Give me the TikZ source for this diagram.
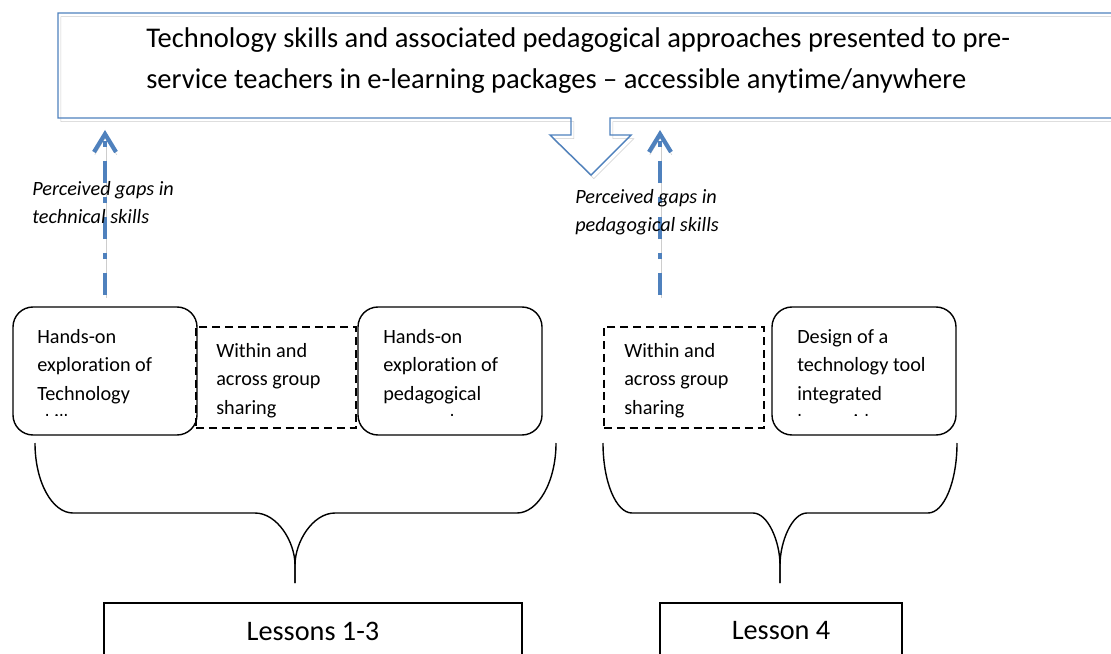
\documentclass[tikz,border=0pt]{standalone}
\usepackage{fontspec}
\setmainfont{Carlito}[Ligatures={TeX,NoCommon}]
\usetikzlibrary{arrows.meta}

\definecolor{shapeblue}{RGB}{79,129,189}
\definecolor{shadowgray}{RGB}{205,205,205}

\tikzset{
  calloutline/.style={draw=shapeblue, line width=1pt, preaction={draw=shadowgray, transform canvas={shift={(0.07,-0.09)}}}},
  gaparrow/.style={draw=shapeblue, line width=3pt, dash pattern=on 0.55cm off 0.35cm on 0.15cm off 0.35cm, -{Straight Barb[length=4.5mm,width=5.5mm]}, preaction={draw=shadowgray, transform canvas={shift={(0.02,-0.07)}}}},
  roundbox/.style={draw, line width=1pt, rounded corners=0.5cm, minimum width=4.6cm, minimum height=3.2cm},
  dashbox/.style={draw, line width=0.8pt, dash pattern=on 0.2cm off 0.12cm, minimum width=4cm, minimum height=2.525cm},
  lessonbox/.style={draw, line width=1pt, inner sep=0pt, minimum height=1.4cm, font=\fontsize{20.1}{24}\selectfont},
  titletext/.style={anchor=north west, inner sep=0pt, align=left, font=\fontsize{20.3}{29.6}\selectfont},
  boxtext/.style={anchor=north west, inner sep=0pt, align=left, font=\fontsize{14.4}{20.3}\selectfont},
  gaptext/.style={anchor=north west, inner sep=0pt, align=left, font=\itshape\fontsize{14.4}{20}\selectfont},
  brace/.style={draw, line width=1pt}
}

\begin{document}
\begin{tikzpicture}
\useasboundingbox (0,0) rectangle (27.775,16.325);

% callout with the e-learning packages
\draw[calloutline] (28.5,16) -- (1.45,16) -- (1.45,13.375) -- (14.275,13.375) -- (14.275,12.95) -- (13.75,12.95) -- (14.775,11.95) -- (15.775,12.95) -- (15.25,12.95) -- (15.25,13.375) -- (28.5,13.375);
\node[titletext] (packages) at (3.65,15.65) {Technology skills and associated pedagogical approaches presented to pre-\\service teachers in e-learning packages – accessible anytime/anywhere};

% activity boxes
\node[roundbox] (techskills) at (2.625,7.05) {};
\node[dashbox] (sharingA) at (6.9,6.8875) {};
\node[roundbox] (pedskills) at (11.25,7.05) {};
\node[dashbox] (sharingB) at (17.1,6.8875) {};
\node[roundbox] (design) at (21.6,7.05) {};

\node[boxtext] (sharetextA) at (5.4,7.755) {Within and\\across group\\sharing};
\node[boxtext] (sharetextB) at (15.6,7.755) {Within and\\across group\\sharing};
% text of the rounded boxes runs past their bottom margin
\begin{scope}
\clip (0,5.94) rectangle (4.925,10) (8.95,5.94) rectangle (13.55,10) (19.275,5.94) rectangle (23.925,10);
\node[boxtext] (techtext) at (0.925,8.105) {Hands-on\\exploration of\\Technology\\skills};
\node[boxtext] (pedtext) at (9.575,8.105) {Hands-on\\exploration of\\pedagogical\\approaches};
\node[boxtext] (designtext) at (19.925,8.105) {Design of a\\technology tool\\integrated\\lesson ideas};
\end{scope}

% perceived gaps
\coordinate (techfoot) at (2.625,8.95);
\coordinate (techhead) at (2.625,13.075);
\coordinate (pedfoot) at (16.5,8.95);
\coordinate (pedhead) at (16.5,13.075);
\draw[gaparrow] (techfoot) -- (techhead);
\draw[gaparrow] (pedfoot) -- (pedhead);
\node[gaptext] (techgap) at (0.8,11.805) {Perceived gaps in\\technical skills};
\node[gaptext] (pedgap) at (14.375,11.6) {Perceived gaps in\\pedagogical skills};

% braces
\draw[brace] (0.875,5.25) .. controls (0.875,4.28) and (1.3,3.5) .. (1.825,3.5) -- (6.375,3.5) .. controls (6.93,3.5) and (7.375,2.78) .. (7.375,2.2) -- (7.375,1.75);
\draw[brace] (13.9,5.25) .. controls (13.9,4.28) and (13.45,3.5) .. (12.925,3.5) -- (8.375,3.5) .. controls (7.82,3.5) and (7.375,2.78) .. (7.375,2.2) -- (7.375,1.75);
\draw[brace] (15.075,5.25) .. controls (15.075,4.28) and (15.4,3.5) .. (15.8,3.5) -- (18.825,3.5) .. controls (19.2,3.5) and (19.5,2.78) .. (19.5,2.2) -- (19.5,1.75);
\draw[brace] (23.925,5.25) .. controls (23.925,4.28) and (23.6,3.5) .. (23.2,3.5) -- (20.175,3.5) .. controls (19.8,3.5) and (19.5,2.78) .. (19.5,2.2) -- (19.5,1.75);

% lessons
\node[lessonbox, minimum width=10.45cm] (lessonsA) at (7.825,0.55) {Lessons 1-3};
\node[lessonbox, minimum width=6.05cm] (lessonsB) at (19.525,0.55) {Lesson 4};

\end{tikzpicture}
\end{document}
